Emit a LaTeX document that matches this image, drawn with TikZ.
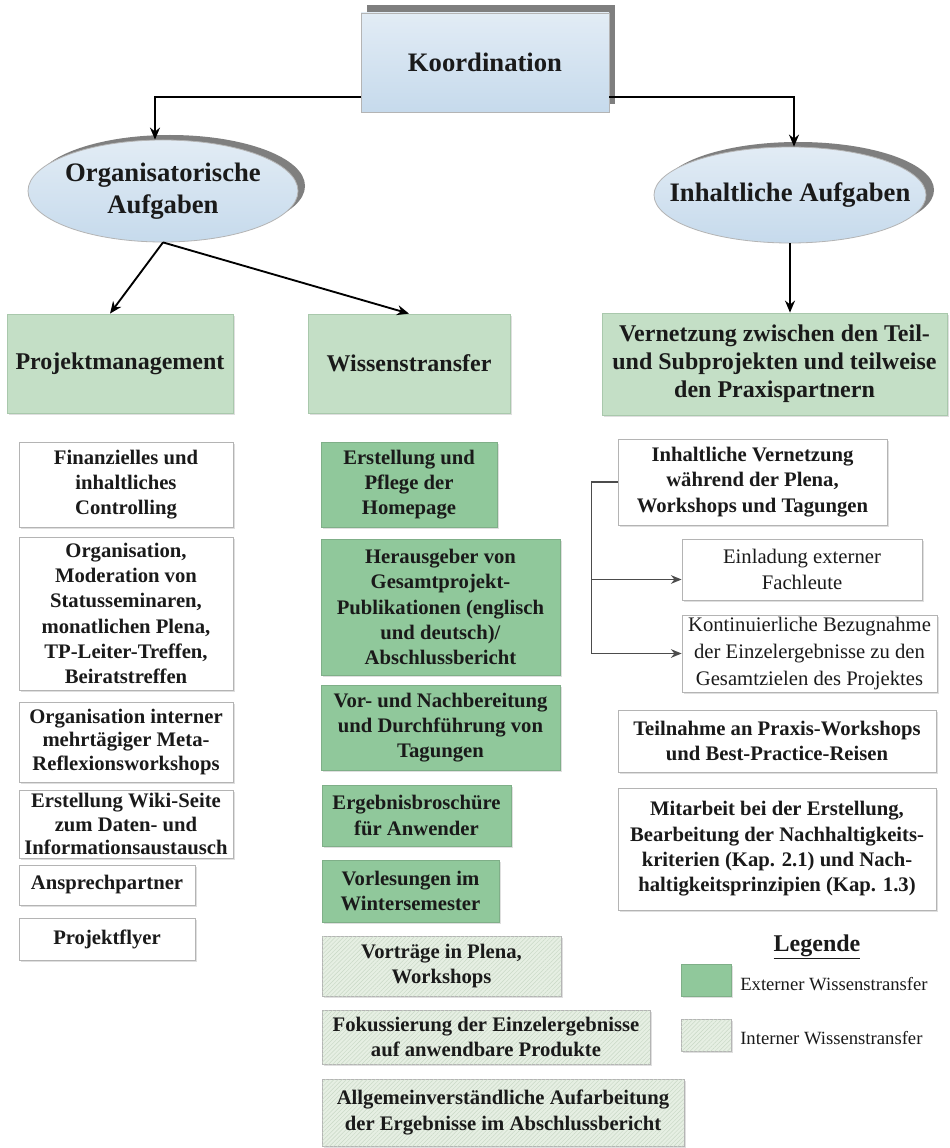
\documentclass[tikz,border=0pt]{standalone}
\usepackage{fontspec}
\setmainfont{Liberation Serif}
\usetikzlibrary{arrows.meta,shapes.geometric,shadows,patterns.meta,calc}
\definecolor{hdr}{HTML}{C4DFC6}
\definecolor{hdrline}{HTML}{A9C8AC}
\definecolor{ext}{HTML}{90C89B}
\definecolor{extline}{HTML}{7FAF88}
\definecolor{intbg}{HTML}{E6EFE3}
\definecolor{inthatch}{HTML}{C9D8C6}
\definecolor{boxline}{HTML}{B4B4B4}
\definecolor{bluetop}{HTML}{E2ECF5}
\definecolor{bluebot}{HTML}{C6DAEC}
\definecolor{framegray}{HTML}{7F7F7F}
\definecolor{ink}{HTML}{1A1A1A}
\newcommand\B[7]{%
  \pgfmathsetmacro\bw{(#5-#3)*0.75}%
  \pgfmathsetmacro\bh{(#6-#4)*0.75}%
  \node[#1, minimum width=\bw pt, minimum height=\bh pt] (#2) at ({(#3+#5)/2},{(#4+#6)/2}) {#7};}
\tikzset{
  shad/.style={drop shadow={shadow xshift=1.2pt,shadow yshift=-1.2pt,opacity=0.25}},
  base/.style={rectangle, inner sep=0pt, align=center, text=ink, font=\fontsize{15.5}{19}\selectfont\bfseries},
  wbox/.style={base, draw=boxline, fill=white, line width=0.6pt, shad},
  tbox/.style={wbox, font=\fontsize{15.5}{17.5}\selectfont\bfseries},
  lbox/.style={wbox, font=\fontsize{15.5}{20}\selectfont},
  hbox/.style={base, draw=hdrline, fill=hdr, line width=0.6pt, font=\fontsize{18}{21}\selectfont\bfseries, shad},
  ebox/.style={base, draw=extline, fill=ext, line width=0.6pt, shad},
  ibox/.style={base, draw=boxline, fill=intbg, line width=0.6pt, shad,
    postaction={pattern={Lines[angle=45,distance=2.2pt,line width=0.35pt]}, pattern color=inthatch}},
  kbox/.style={base, top color=bluetop, bottom color=bluebot, draw=boxline, line width=0.6pt, font=\fontsize{20}{24}\selectfont\bfseries},
  ell/.style={ellipse, inner sep=0pt, top color=bluetop, bottom color=bluebot, draw=boxline, line width=0.6pt},
  etext/.style={inner sep=0pt, align=center, text=ink, font=\fontsize{20}{24}\selectfont\bfseries},
  legtext/.style={anchor=west, inner sep=0pt, text=ink, font=\fontsize{14}{16}\selectfont},
  arr/.style={-{Stealth[length=9pt,width=7.5pt]}, line width=1.4pt, draw=black},
  garr/.style={-{Stealth[length=8pt,width=6.5pt]}, line width=1.1pt, draw=black!70}
}
\begin{document}
\begin{tikzpicture}[x=0.75pt,y=-0.75pt]
\useasboundingbox (0,0) rectangle (949,1148);
\fill[white] (0,0) rectangle (949,1148);
% Koordination
\fill[framegray] (367,5) rectangle (615,104);
\B{kbox}{kor}{361}{13}{609}{112}{Koordination}
% ellipses
\fill[framegray] (170,186) ellipse [x radius=135, y radius=51];
\node[ell, minimum width=202.5pt, minimum height=76.5pt] (org) at (163,191) {};
\node[etext] (orgtext) at (org.center) {Organisatorische\\Aufgaben};
\fill[framegray] (798,190) ellipse [x radius=136, y radius=48];
\node[ell, minimum width=204pt, minimum height=72pt] (inh) at (790,195) {};
\node[etext] (inhtext) at (inh.center) {Inhaltliche Aufgaben};
% headers
\B{hbox}{pm}{7}{314}{233}{413}{Projektmanagement}
\B{hbox}{ws}{308}{314}{510}{413}{Wissenstransfer}
\B{hbox}{vn}{602}{313}{947}{415}{Vernetzung zwischen den Teil-\\und Subprojekten und teilweise\\den Praxispartnern}
% left column
\B{wbox}{f1}{19}{442}{233}{527}{Finanzielles und\\inhaltliches\\Controlling}
\B{wbox}{f2}{19}{537}{233}{690}{Organisation,\\Moderation von\\Statusseminaren,\\monatlichen Plena,\\TP-Leiter-Treffen,\\Beiratstreffen}
\B{tbox}{f3}{19}{702}{233}{782}{Organisation interner\\mehrtägiger Meta-\\Reflexionsworkshops}
\B{tbox}{f4}{19}{790}{233}{858}{Erstellung Wiki-Seite\\zum Daten- und\\Informationsaustausch}
\B{wbox}{f5}{19}{865}{195}{905}{Ansprechpartner}
\B{wbox}{f6}{19}{918}{195}{960}{Projektflyer}
% middle column
\B{ebox}{m1}{321}{442}{497}{527}{Erstellung und\\Pflege der\\Homepage}
\B{ebox}{m2}{321}{539}{560}{675}{Herausgeber von\\Gesamtprojekt-\\Publikationen (englisch\\und deutsch)/\\Abschlussbericht}
\B{ebox}{m3}{321}{685}{560}{770}{Vor- und Nachbereitung\\und Durchführung von\\Tagungen}
\B{ebox}{m4}{322}{785}{511}{846}{Ergebnisbroschüre\\für Anwender}
\B{ebox}{m5}{322}{860}{499}{922}{Vorlesungen im\\Wintersemester}
\B{ibox}{m6}{322}{936}{561}{996}{Vorträge in Plena,\\Workshops}
\B{ibox}{m7}{322}{1010}{650}{1064}{Fokussierung der Einzelergebnisse\\auf anwendbare Produkte}
\B{ibox}{m8}{322}{1079}{684}{1146}{Allgemeinverständliche Aufarbeitung\\der Ergebnisse im Abschlussbericht}
% right column
\B{wbox}{r1}{618}{439}{887}{525}{Inhaltliche Vernetzung\\während der Plena,\\Workshops und Tagungen}
\B{lbox}{r2}{682}{539}{922}{600}{Einladung externer\\Fachleute}
\B{lbox}{r3}{682}{615}{937}{692}{Kontinuierliche Bezugnahme\\der Einzelergebnisse zu den\\Gesamtzielen des Projektes}
\B{wbox}{r4}{618}{710}{936}{772}{Teilnahme an Praxis-Workshops\\und Best-Practice-Reisen}
\B{wbox}{r5}{618}{788}{936}{910}{Mitarbeit bei der Erstellung,\\Bearbeitung der Nachhaltigkeits-\\kriterien (Kap. 2.1) und Nach-\\haltigkeitsprinzipien (Kap. 1.3)}
% legend
\node[text=ink, font=\fontsize{18}{20}\selectfont\bfseries] (leg) at (817,947) {\underline{Legende}};
\B{ebox}{s1}{681}{964}{731}{996}{}
\node[legtext] (l1) at (740,984) {Externer Wissenstransfer};
\B{ibox}{s2}{681}{1019}{731}{1051}{}
\node[legtext] (l2) at (740,1038) {Interner Wissenstransfer};
% connectors
\draw[arr] ($(kor.south west)+(0,-15)$) -| ($(org.north)+(-8,0)$);
\draw[arr] ($(kor.south east)+(0,-15)$) -| ($(inh.north)+(4,0)$);
\draw[arr] (org.south) -- ($(pm.north)+(-10,0)$);
\draw[arr] (org.south) -- (ws.north);
\draw[arr] (inh.south) -- (inh.south |- vn.north);
\draw[garr] (r1.west) -| ($(r3.west)+(-90,0)$) -- (r3.west);
\draw[garr] ($(r2.west)+(-90,10)$) -- ($(r2.west)+(0,10)$);
\end{tikzpicture}
\end{document}
